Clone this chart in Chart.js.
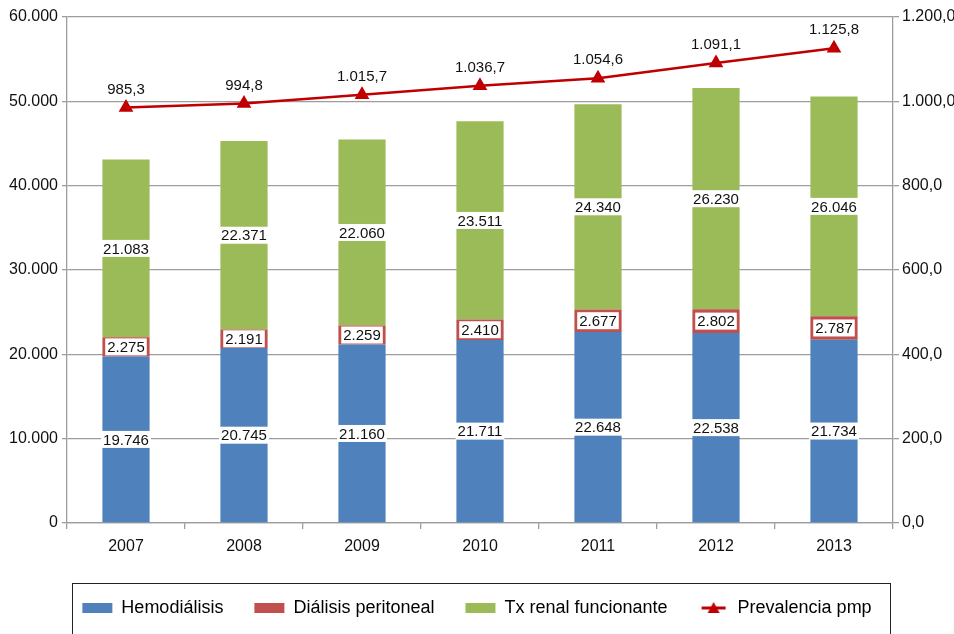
<!DOCTYPE html>
<html>
<head>
<meta charset="utf-8">
<script src="https://cdn.jsdelivr.net/npm/chart.js@4"></script>
<style>
  html, body { margin: 0; padding: 0; background: #fff; }
  #wrap { width: 954px; height: 634px; }
</style>
</head>
<body>
<div id="wrap"><canvas id="prevalenciaChart"></canvas></div>
<script>
const years = ['2007', '2008', '2009', '2010', '2011', '2012', '2013'];
const hemodialisis = [19746, 20745, 21160, 21711, 22648, 22538, 21734];
const dialisisPeritoneal = [2275, 2191, 2259, 2410, 2677, 2802, 2787];
const txRenal = [21083, 22371, 22060, 23511, 24340, 26230, 26046];
const prevalenciaPmp = [985.3, 994.8, 1015.7, 1036.7, 1054.6, 1091.1, 1125.8];

const FONT = '"Liberation Sans", Arial, Helvetica, sans-serif';
const GRID = '#9d9d9d';

function fmtInt(n) {
    return String(Math.round(n)).replace(/\B(?=(\d{3})+(?!\d))/g, '.');
}
function fmtDec(n) {
    let parts = n.toFixed(1).split('.');
    return fmtInt(parseInt(parts[0], 10)) + ',' + parts[1];
}

// legend symbol for the line: red line with a triangle on it
let lineSymbol = document.createElement('canvas');
lineSymbol.width = 26;
lineSymbol.height = 14;
(function () {
    let c = lineSymbol.getContext('2d');
    c.strokeStyle = '#C00000';
    c.lineWidth = 3;
    c.beginPath();
    c.moveTo(1, 7);
    c.lineTo(25, 7);
    c.stroke();
    c.fillStyle = '#C00000';
    c.beginPath();
    c.moveTo(13, 1);
    c.lineTo(19, 12);
    c.lineTo(7, 12);
    c.closePath();
    c.fill();
})();

const valueLabels = {
    id: 'valueLabels',
    afterDatasetsDraw(chart) {
        let ctx = chart.ctx;
        ctx.save();
        ctx.textAlign = 'center';
        ctx.textBaseline = 'middle';
        ctx.font = '15px ' + FONT;
        chart.data.datasets.forEach(function (ds, i) {
            let meta = chart.getDatasetMeta(i);
            meta.data.forEach(function (el, j) {
                let v = ds.data[j];
                if (ds.type === 'line') {
                    ctx.fillStyle = '#111';
                    ctx.fillText(fmtDec(v), el.x, el.y - 18);
                } else {
                    let txt = fmtInt(v);
                    let w = ctx.measureText(txt).width + 4;
                    let h = 17;
                    let cy = (el.y + el.base) / 2;
                    ctx.fillStyle = '#fff';
                    ctx.fillRect(el.x - w / 2, cy - h / 2, w, h);
                    ctx.fillStyle = '#111';
                    ctx.fillText(txt, el.x, cy + 1);
                }
            });
        });
        ctx.restore();
    }
};

// open frame around the legend, cut by the bottom edge like the original
const legendFrame = {
    id: 'legendFrame',
    afterDraw(chart) {
        let lg = chart.legend;
        let ca = chart.chartArea;
        let ctx = chart.ctx;
        let itemY = lg.legendHitBoxes.length ? lg.legendHitBoxes[0].top + lg.legendHitBoxes[0].height / 2 : lg.top;
        ctx.save();
        ctx.strokeStyle = '#222';
        ctx.lineWidth = 1;
        ctx.strokeRect(ca.left + 5.5, Math.round(itemY - 25) + 0.5, ca.right - ca.left - 8, chart.height);
        ctx.restore();
    }
};

let ctxEl = document.getElementById('prevalenciaChart');
let prevalenciaChart = new Chart(ctxEl, {
    type: 'bar',
    data: {
        labels: years,
        datasets: [
            {
                label: 'Hemodiálisis',
                data: hemodialisis,
                backgroundColor: '#4F81BD',
                yAxisID: 'y',
                stack: 'tr',
                order: 2
            },
            {
                label: 'Diálisis peritoneal',
                data: dialisisPeritoneal,
                backgroundColor: '#C0504D',
                yAxisID: 'y',
                stack: 'tr',
                order: 2
            },
            {
                label: 'Tx renal funcionante',
                data: txRenal,
                backgroundColor: '#9BBB59',
                yAxisID: 'y',
                stack: 'tr',
                order: 2
            },
            {
                type: 'line',
                label: 'Prevalencia pmp',
                data: prevalenciaPmp,
                borderColor: '#C00000',
                backgroundColor: '#C00000',
                borderWidth: 2.5,
                pointStyle: 'triangle',
                pointRadius: 6,
                pointHoverRadius: 6,
                tension: 0,
                fill: false,
                yAxisID: 'y1',
                order: 1
            }
        ]
    },
    plugins: [valueLabels, legendFrame],
    options: {
        responsive: true,
        maintainAspectRatio: false,
        animation: false,
        layout: { padding: { top: 17, left: 0, right: 0, bottom: 7 } },
        datasets: {
            bar: { barPercentage: 0.4, categoryPercentage: 1 }
        },
        plugins: {
            tooltip: { enabled: false },
            legend: {
                position: 'bottom',
                labels: {
                    font: { family: FONT, size: 18 },
                    color: '#111',
                    usePointStyle: true,
                    pointStyleWidth: 30,
                    boxHeight: 10,
                    padding: 31,
                    generateLabels: function (chart) {
                        return chart.data.datasets.map(function (ds, i) {
                            return {
                                text: ds.label,
                                fillStyle: ds.backgroundColor,
                                strokeStyle: ds.backgroundColor,
                                lineWidth: 0,
                                pointStyle: ds.type === 'line' ? lineSymbol : 'rect',
                                datasetIndex: i,
                                hidden: false
                            };
                        });
                    }
                }
            }
        },
        scales: {
            x: {
                stacked: true,
                offset: true,
                grid: {
                    display: true,
                    offset: true,
                    drawOnChartArea: false,
                    drawTicks: true,
                    tickLength: 6,
                    color: GRID,
                    lineWidth: 1.3
                },
                border: { color: GRID, width: 1.3 },
                ticks: {
                    font: { family: FONT, size: 16 },
                    color: '#111',
                    padding: 8
                },
                afterFit: function (s) { s.height = 45; }
            },
            y: {
                stacked: true,
                position: 'left',
                min: 0,
                max: 60000,
                ticks: {
                    stepSize: 10000,
                    font: { family: FONT, size: 16 },
                    color: '#111',
                    padding: 4,
                    callback: function (v) { return fmtInt(v); }
                },
                grid: { color: GRID, lineWidth: 1.3, tickLength: 5 },
                border: { color: GRID, width: 1.3 },
                afterFit: function (s) { s.width = 67; }
            },
            y1: {
                position: 'right',
                min: 0,
                max: 1200,
                ticks: {
                    stepSize: 200,
                    font: { family: FONT, size: 16 },
                    color: '#111',
                    padding: 3,
                    callback: function (v) { return fmtDec(v); }
                },
                grid: { drawOnChartArea: false, color: GRID, lineWidth: 1.3, tickLength: 6 },
                border: { color: GRID, width: 1.3 },
                afterFit: function (s) { s.width = 61; }
            }
        }
    }
});
</script>
</body>
</html>
